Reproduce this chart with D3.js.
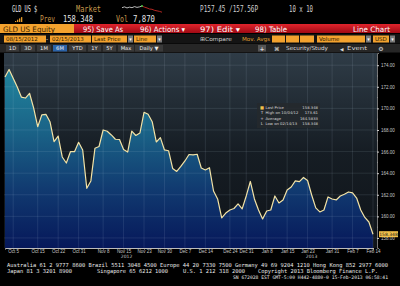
<!DOCTYPE html>
<html>
<head>
<meta charset="utf-8">
<script src="https://cdn.jsdelivr.net/npm/d3@7"></script>
<style>
html, body { margin: 0; padding: 0; background: #000; }
svg { display: block; font-family: "DejaVu Sans", sans-serif; }
</style>
</head>
<body>
<div id="chart"></div>
<script>
// trading days Oct 3 2012 .. Feb 14 2013
const dates = [
  "10/03","10/04","10/05","10/08","10/09","10/10","10/11","10/12","10/15","10/16","10/17","10/18","10/19",
  "10/22","10/23","10/24","10/25","10/26","10/31",
  "11/01","11/02","11/05","11/06","11/07","11/08","11/09","11/12","11/13","11/14","11/15","11/16",
  "11/19","11/20","11/21","11/23","11/26","11/27","11/28","11/29","11/30",
  "12/03","12/04","12/05","12/06","12/07","12/10","12/11","12/12","12/13","12/14","12/17","12/18",
  "12/19","12/20","12/21","12/24","12/26","12/27","12/28","12/31",
  "01/02","01/03","01/04","01/07","01/08","01/09","01/10","01/11","01/14","01/15","01/16","01/17",
  "01/18","01/22","01/23","01/24","01/25","01/28","01/29","01/30","01/31",
  "02/01","02/04","02/05","02/06","02/07","02/08","02/11","02/12","02/13","02/14"
];
const prices = [
  172.90,173.61,172.80,171.98,171.05,170.96,171.40,170.04,168.30,169.40,169.45,168.77,166.92,
  167.44,165.50,164.94,165.99,165.99,166.86,
  166.15,162.60,163.28,166.31,166.47,168.00,167.88,167.54,167.14,167.12,166.19,165.96,
  167.90,167.49,167.72,169.64,169.45,168.77,166.89,167.29,166.15,
  166.08,164.44,164.16,164.62,165.13,165.73,165.69,165.75,164.48,164.30,164.51,162.35,
  161.61,159.85,160.31,160.59,160.73,161.15,160.69,161.89,
  163.23,161.61,160.59,159.76,160.50,160.59,161.89,161.24,161.52,162.44,162.72,163.28,
  163.21,163.60,163.32,161.98,160.78,160.41,160.59,161.80,
  161.61,161.52,161.89,162.05,162.26,162.17,161.70,160.59,159.90,159.48,158.348
];
const xTickDates = ["10/05","10/15","10/22","10/31","11/08","11/15","11/23","11/30","12/07","12/14",
  "12/24","12/31","01/08","01/15","01/23","01/31","02/07","02/14"];
const xTickLabels = ["Oct 5","Oct 15","Oct 22","Oct 31","Nov 8","Nov 15","Nov 23","Nov 30","Dec 7","Dec 14",
  "Dec 24","Dec 31","Jan 8","Jan 15","Jan 23","Jan 31","Feb 7","Feb 14"];
const yTicks = [158,160,162,164,166,168,170,172,174];
const yMinor = [159,161,163,165,167,169,171,173];
const legendRows = [
  ["Last Price", "158.348"],
  ["High on 10/04/12", "173.61"],
  ["Average", "164.5833"],
  ["Low on 02/14/13", "158.348"]
];
const sparkVals = [5.0,5.3,4.9,5.2,5.0,5.4,5.1,5.3,5.6,5.2,4.9,4.5,4.4,4.0,3.8,3.6,3.3];
const sparkSplit = 8;

const width = 400, height = 286;
const plot = {left: 4, right: 377, top: 53, bottom: 248};

const svg = d3.select("#chart").append("svg")
  .attr("width", width)
  .attr("height", height);

svg.append("rect").attr("width", width).attr("height", height).attr("fill", "#000");

function txt(x, y, s, o = {}) {
  const t = svg.append("text")
    .attr("x", x).attr("y", y)
    .attr("font-size", o.size || 7)
    .attr("fill", o.fill || "#e6e6e6")
    .attr("text-anchor", o.anchor || "start")
    .text(s);
  if (o.len) t.attr("textLength", o.len).attr("lengthAdjust", "spacingAndGlyphs");
  if (o.family) t.attr("font-family", o.family);
  return t;
}

const defs = svg.append("defs");
const red = defs.append("linearGradient").attr("id", "redbar").attr("x1", 0).attr("y1", 0).attr("x2", 0).attr("y2", 1);
red.append("stop").attr("offset", 0).attr("stop-color", "#e0242c");
red.append("stop").attr("offset", 1).attr("stop-color", "#a00a14");

const bg = defs.append("linearGradient").attr("id", "bg").attr("gradientUnits", "userSpaceOnUse")
  .attr("x1", 0).attr("y1", plot.top).attr("x2", 0).attr("y2", plot.bottom);
bg.append("stop").attr("offset", 0).attr("stop-color", "#2f3c47");
bg.append("stop").attr("offset", 0.5).attr("stop-color", "#161d24");
bg.append("stop").attr("offset", 1).attr("stop-color", "#0f1419");

const fill = defs.append("linearGradient").attr("id", "fill").attr("gradientUnits", "userSpaceOnUse")
  .attr("x1", 0).attr("y1", plot.top).attr("x2", 0).attr("y2", plot.bottom);
fill.append("stop").attr("offset", 0).attr("stop-color", "#238ea3");
fill.append("stop").attr("offset", 0.4).attr("stop-color", "#1a6387");
fill.append("stop").attr("offset", 0.7).attr("stop-color", "#113a70");
fill.append("stop").attr("offset", 1).attr("stop-color", "#06185a");

// ---- header ----
const mono = "DejaVu Sans Mono";
txt(12, 12, "GLD US $", {size: 8, len: 25, family: mono});
txt(76, 12, "Market", {size: 8, len: 25, fill: "#c99a4c", family: mono});

// little intraday sparkline
const sx = d3.scaleLinear().domain([0, sparkVals.length - 1]).range([122, 162]);
const sy = d3.scaleLinear().domain([3, 6]).range([13, 5]);
const sline = d3.line().x(d => sx(d[0])).y(d => sy(d[1]));
const sparkPts = sparkVals.map((v, i) => [i, v]);
svg.append("path").datum(sparkPts.slice(0, sparkSplit + 1)).attr("d", sline)
  .attr("fill", "none").attr("stroke", "#e8e8e8").attr("stroke-width", 0.8);
svg.append("path").datum(sparkPts.slice(sparkSplit)).attr("d", sline)
  .attr("fill", "none").attr("stroke", "#e0302a").attr("stroke-width", 0.8);
svg.append("circle").attr("cx", sx(sparkSplit)).attr("cy", sy(sparkVals[sparkSplit])).attr("r", 1).attr("fill", "#3ec040");

txt(200, 12, "P157.45 /157.56P", {size: 8, len: 58, fill: "#cfcfcf", family: mono});
txt(289, 12, "10 x 10", {size: 8, len: 24, fill: "#cfcfcf", family: mono});

[0, 1, 2, 3].forEach(i => {
  svg.append("rect").attr("x", 15 + i * 2).attr("y", 21 - i * 1.3).attr("width", 1.3).attr("height", 1 + i * 1.3)
    .attr("fill", "#e39a2a");
});
txt(40, 21.5, "Prev", {size: 8, len: 15, fill: "#c99a4c", family: mono});
txt(63, 21.5, "158.348", {size: 8, len: 30, family: mono});
txt(116, 21.5, "Vol", {size: 8, len: 12, fill: "#c99a4c", family: mono});
txt(133, 21.5, "7,870", {size: 8, len: 22, family: mono});

// row 3
svg.append("rect").attr("x", 0).attr("y", 24).attr("width", 74).attr("height", 9).attr("fill", "#f3a22e");
txt(3, 31.5, "GLD US Equity", {size: 7.5, len: 52, fill: "#3a2200"});
svg.append("rect").attr("x", 74).attr("y", 24).attr("width", 326).attr("height", 9).attr("fill", "url(#redbar)");
txt(83, 31.5, "95) Save As", {size: 7.5, len: 40, fill: "#fff"});
txt(140, 31.5, "96) Actions ▾", {size: 7.5, len: 45, fill: "#fff"});
txt(200, 31.5, "97) Edit ▾", {size: 7.5, len: 40, fill: "#fff"});
txt(255, 31.5, "98) Table", {size: 7.5, len: 32, fill: "#fff"});
txt(390, 31.5, "Line Chart", {size: 7.5, len: 37, fill: "#fff", anchor: "end"});

// row 4
svg.append("rect").attr("x", 0).attr("y", 34).attr("width", width).attr("height", 9.5).attr("fill", "#141414");
const boxes4 = [[4, 42, "08/15/2012"], [50, 41, "02/15/2013"], [92, 35, "Last Price"], [134, 22, "Line"],
  [272, 13, ""], [286, 13, ""], [300, 14, ""], [317, 48, "Volume"], [373, 16, "USD"]];
boxes4.forEach(b => {
  svg.append("rect").attr("x", b[0]).attr("y", 35.5).attr("width", b[1]).attr("height", 7).attr("fill", "#f3a22e");
  if (b[2]) txt(b[0] + 2, 41.3, b[2], {size: 5.5, fill: "#2a1800"});
});
[128, 157, 366, 390].forEach(x => {
  svg.append("rect").attr("x", x).attr("y", 35.5).attr("width", 5).attr("height", 7).attr("fill", "#7a7a7a");
  txt(x + 2.5, 41, "▾", {size: 5, fill: "#fff", anchor: "middle"});
});
txt(46, 41.3, "-", {size: 6, fill: "#ddd"});
txt(200, 41.3, "⊞Compare", {size: 5.5, len: 32, fill: "#d0d0d0"});
txt(242, 41.3, "Mov. Avgs", {size: 5.5, len: 28, fill: "#e0a030"});

// row 5
svg.append("rect").attr("x", 0).attr("y", 44).attr("width", width).attr("height", 8.5).attr("fill", "#262626");
const btns = [[6, 13, "1D"], [21, 14, "3D"], [37, 14, "1M"], [53, 14, "6M"], [69, 17, "YTD"], [88, 13, "1Y"],
  [103, 13, "5Y"], [118, 16, "Max"], [135, 28, "Daily ▼"]];
btns.forEach(b => {
  svg.append("rect").attr("x", b[0]).attr("y", 45).attr("width", b[1]).attr("height", 6.5)
    .attr("fill", b[2] === "6M" ? "#2b63a8" : "#3a3a3a");
  txt(b[0] + b[1] / 2, 50.3, b[2], {size: 5.2, fill: "#eee", anchor: "middle"});
});
svg.append("rect").attr("x", 258).attr("y", 45).attr("width", 8).attr("height", 6.5).attr("fill", "#555");
txt(262, 50.5, "+", {size: 6, fill: "#fff", anchor: "middle"});
txt(274, 50.5, "⌘", {size: 5.5, fill: "#ddd"});
txt(286, 50.3, "Security/Study", {size: 5.5, len: 42, fill: "#ddd"});
txt(340, 50.5, "◀", {size: 4.5, fill: "#ddd"});
txt(347, 50.3, "Event", {size: 5.5, len: 20, fill: "#ddd"});
txt(381, 50.6, "⚙", {size: 6, fill: "#ddd", anchor: "middle"});

// ---- chart ----
const x = d3.scaleLinear().domain([0, prices.length - 1]).range([5, 373]);
const y = d3.scaleLinear().domain([157.07, 175.13]).range([plot.bottom, plot.top]);

svg.append("rect").attr("x", plot.left).attr("y", plot.top)
  .attr("width", plot.right - plot.left).attr("height", plot.bottom - plot.top).attr("fill", "url(#bg)");

const area = d3.area().x((d, i) => x(i)).y0(plot.bottom).y1(d => y(d));
const line = d3.line().x((d, i) => x(i)).y(d => y(d));

svg.append("path").datum(prices).attr("d", area).attr("fill", "url(#fill)");

const tickIdx = xTickDates.map(d => dates.indexOf(d));

const grid = svg.append("g").attr("stroke", "#c8dcf0").attr("stroke-opacity", 0.14).attr("stroke-width", 0.8);
grid.selectAll("line.v").data(tickIdx).join("line")
  .attr("x1", d => x(d)).attr("x2", d => x(d)).attr("y1", plot.top).attr("y2", plot.bottom);
grid.selectAll("line.h").data(yTicks).join("line")
  .attr("x1", plot.left).attr("x2", plot.right).attr("y1", d => y(d)).attr("y2", d => y(d));

svg.append("path").datum(prices).attr("d", line)
  .attr("fill", "none").attr("stroke", "#f3e3a6").attr("stroke-width", 1.2).attr("stroke-linejoin", "round");

// right axis
const yAxis = svg.append("g").attr("transform", `translate(${plot.right},0)`)
  .call(d3.axisRight(y).tickValues(yTicks).tickSize(2).tickPadding(2).tickFormat(d3.format(".2f")));
yAxis.select(".domain").attr("stroke", "#777");
yAxis.selectAll(".tick line").attr("stroke", "#ccc");
yAxis.selectAll("text").attr("font-size", 4.5).attr("fill", "#c8c8c8");
yAxis.selectAll("line.minor").data(yMinor).join("line").attr("class", "minor")
  .attr("x1", 0).attr("x2", 1).attr("y1", d => y(d)).attr("y2", d => y(d)).attr("stroke", "#aaa").attr("stroke-width", 0.6);

// bottom axis
const xAxis = svg.append("g").attr("transform", `translate(0,${plot.bottom})`)
  .call(d3.axisBottom(x).tickValues(tickIdx).tickSize(1.5).tickPadding(0.8)
    .tickFormat((d, i) => xTickLabels[i]));
xAxis.select(".domain").attr("stroke", "#bbb").attr("stroke-width", 1);
xAxis.selectAll(".tick line").attr("stroke", "#bbb");
xAxis.selectAll("text").attr("font-size", 4.5).attr("fill", "#c8c8c8");

txt(x(dates.indexOf("11/15")) + 3, 258.3, "2012", {size: 4.5, fill: "#c8c8c8", anchor: "middle"});
txt(x(dates.indexOf("01/23")) + 4, 258.3, "2013", {size: 4.5, fill: "#c8c8c8", anchor: "middle"});

// last price tag
const last = prices[prices.length - 1];
svg.append("rect").attr("x", plot.right + 2).attr("y", y(last) - 3).attr("width", 19).attr("height", 6).attr("fill", "#f2c14a");
txt(plot.right + 11.5, y(last) + 1.6, d3.format(".3f")(last), {size: 4.5, fill: "#1a1a1a", anchor: "middle"});

// legend
const lg = {x: 257, y: 103};
svg.append("rect").attr("x", lg.x).attr("y", lg.y).attr("width", 63).attr("height", 25)
  .attr("fill", "#25292d").attr("fill-opacity", 0.85);
const icons = ["■", "T", "+", "L"];
legendRows.forEach((r, i) => {
  const yy = lg.y + 5.6 + i * 5.5;
  txt(lg.x + 5, yy, icons[i], {size: 4.2, fill: i === 0 ? "#f2c14a" : "#ddd", anchor: "middle"});
  txt(lg.x + 8.5, yy, r[0], {size: 3.8, fill: "#d8d8d8"});
  txt(lg.x + 61, yy, r[1], {size: 3.8, fill: "#d8d8d8", anchor: "end"});
});

// footer
txt(7, 266.5, "Australia 61 2 9777 8600 Brazil 5511 3048 4500 Europe 44 20 7330 7500 Germany 49 69 9204 1210 Hong Kong 852 2977 6000",
  {size: 5.5, len: 381, fill: "#e8e8e8", family: mono});
txt(7, 272.5, "Japan 81 3 3201 8900", {size: 5.5, len: 65, fill: "#e8e8e8", family: mono});
txt(97, 272.5, "Singapore 65 6212 1000", {size: 5.5, len: 71, fill: "#e8e8e8", family: mono});
txt(183, 272.5, "U.S. 1 212 318 2000", {size: 5.5, len: 62, fill: "#e8e8e8", family: mono});
txt(258, 272.5, "Copyright 2013 Bloomberg Finance L.P.", {size: 5.5, len: 120, fill: "#e8e8e8", family: mono});
txt(233, 278.5, "SN 672028 EST  GMT-5:00 H442-4880-0 15-Feb-2013 06:58:41", {size: 4.8, len: 155, fill: "#e8e8e8", family: mono});
</script>
</body>
</html>
